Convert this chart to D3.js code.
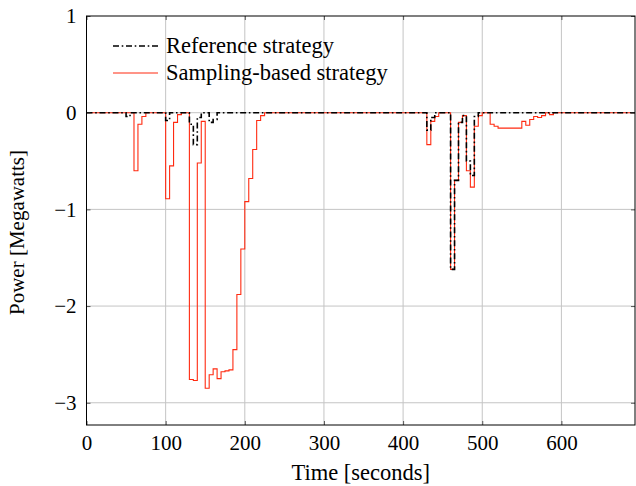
<!DOCTYPE html>
<html>
<head>
<meta charset="utf-8">
<script src="https://cdn.jsdelivr.net/npm/d3@7"></script>
<style>
  html, body { margin: 0; padding: 0; background: #fff; }
  svg text { font-family: "Liberation Serif", "DejaVu Serif", serif; fill: #000; }
</style>
</head>
<body>
<svg id="chart" width="636" height="486"></svg>
<script>
// ---- data (step series: value holds from time[i] until time[i+1]) ----
const xTicks = [0, 100, 200, 300, 400, 500, 600];
const yTicks = [1, 0, -1, -2, -3];

const seriesNames = ["Reference strategy", "Sampling-based strategy"];

const refTimes  = [0, 50, 55, 100, 105, 130, 135, 140, 145, 155, 160, 165,
                   430, 435, 440, 460, 465, 470, 475, 480, 485, 490, 495, 693];
const refValues = [0, -0.04, 0, -0.08, 0, -0.12, -0.33, -0.05, 0, -0.1, -0.07, 0,
                   -0.18, -0.05, 0, -1.62, -0.70, -0.10, -0.03, -0.5, -0.65, -0.04, 0, 0];

const samTimes  = [0, 60, 65, 70, 75, 100, 105, 110, 115, 120,
                   130, 135, 140, 145, 150, 155, 160, 165, 170, 175, 180, 185, 190, 195,
                   200, 205, 210, 215, 220, 225,
                   430, 435, 440, 445, 460, 465, 470, 475, 480, 485, 490, 495, 500,
                   510, 515, 520, 550, 555, 560, 565, 570, 575, 580, 585, 590, 693];
const samValues = [0, -0.6, -0.12, -0.04, 0, -0.89, -0.55, -0.10, -0.02, 0,
                   -2.76, -2.77, -0.52, -0.09, -2.85, -2.71, -2.65, -2.75, -2.68, -2.67, -2.66, -2.45, -1.88, -1.41,
                   -0.92, -0.68, -0.38, -0.08, -0.03, 0,
                   -0.33, -0.09, -0.04, 0, -1.62, -0.70, -0.10, -0.03, -0.60, -0.77, -0.14, -0.03, 0,
                   -0.12, -0.14, -0.16, -0.09, -0.13, -0.07, -0.04, -0.05, -0.03, 0, -0.02, 0, 0];

// ---- layout ----
const L = 86.5, R = 635, T = 16, B = 425;
const svg = d3.select("#chart");
const x = d3.scaleLinear().domain([0, 693]).range([L, R]);
const y = d3.scaleLinear().domain([-3.23, 1]).range([B, T]);

const refData = refTimes.map((t, i) => [t, refValues[i]]);
const samData = samTimes.map((t, i) => [t, samValues[i]]);

// grid
const grid = svg.append("g");
grid.selectAll("line.gx").data(xTicks.filter(d => d > 0)).join("line")
  .attr("x1", d => x(d)).attr("x2", d => x(d)).attr("y1", T).attr("y2", B)
  .attr("stroke", "#c4c4c4").attr("stroke-width", 1);
grid.selectAll("line.gy").data(yTicks.filter(d => d < 1)).join("line")
  .attr("x1", L).attr("x2", R).attr("y1", d => y(d)).attr("y2", d => y(d))
  .attr("stroke", "#c4c4c4").attr("stroke-width", 1);

// clip
svg.append("clipPath").attr("id", "clip").append("rect")
  .attr("x", L).attr("y", T).attr("width", R - L).attr("height", B - T);

const line = d3.line().x(d => x(d[0])).y(d => y(d[1])).curve(d3.curveStepAfter);

const plot = svg.append("g").attr("clip-path", "url(#clip)");
plot.append("path").datum(samData).attr("d", line)
  .attr("fill", "none").attr("stroke", "#ff2a10").attr("stroke-width", 1.1);
plot.append("path").datum(refData).attr("d", line)
  .attr("fill", "none").attr("stroke", "#000").attr("stroke-width", 1.6)
  .attr("stroke-dasharray", "6,2.7,1.6,2.7");

// axes (inward ticks on all sides)
const tickLen = 4;
const axB = d3.axisBottom(x).tickValues(xTicks).tickSize(-tickLen).tickPadding(10).tickFormat(d3.format("d"));
const axL = d3.axisLeft(y).tickValues(yTicks).tickSize(-tickLen).tickPadding(10)
  .tickFormat(d => d < 0 ? "\u2212" + Math.abs(d) : String(d));
const axT = d3.axisTop(x).tickValues(xTicks).tickSize(-tickLen).tickFormat("");
const axR = d3.axisRight(y).tickValues(yTicks).tickSize(-tickLen).tickFormat("");

function style(g) {
  g.select(".domain").remove();
  g.selectAll(".tick line").attr("stroke", "#555");
  g.selectAll("text").style("font-size", "21px").attr("fill", "#000");
}
svg.append("g").attr("transform", `translate(0,${B})`).call(axB).call(style);
svg.append("g").attr("transform", `translate(${L},0)`).call(axL).call(style);
svg.append("g").attr("transform", `translate(0,${T})`).call(axT).call(style);
svg.append("g").attr("transform", `translate(${R},0)`).call(axR).call(style);

// frame
svg.append("rect").attr("x", L).attr("y", T).attr("width", R - L).attr("height", B - T)
  .attr("fill", "none").attr("stroke", "#000").attr("stroke-width", 1);

// axis labels
svg.append("text").attr("x", (L + R) / 2).attr("y", 480).attr("text-anchor", "middle")
  .style("font-size", "22.5px").text("Time [seconds]");
svg.append("text").attr("transform", `translate(24,${(T + B) / 2 + 12}) rotate(-90)`)
  .attr("text-anchor", "middle").style("font-size", "21px").text("Power [Megawatts]");

// legend
const leg = svg.append("g");
const legY = [46, 73];
leg.append("line").attr("x1", 113).attr("x2", 158).attr("y1", legY[0]).attr("y2", legY[0])
  .attr("stroke", "#000").attr("stroke-width", 1.6).attr("stroke-dasharray", "6,2.7,1.6,2.7");
leg.append("line").attr("x1", 113).attr("x2", 158).attr("y1", legY[1]).attr("y2", legY[1])
  .attr("stroke", "#ff2a10").attr("stroke-width", 1.1);
leg.selectAll("text").data(seriesNames).join("text")
  .attr("x", 166).attr("y", (d, i) => legY[i] + 7)
  .style("font-size", "22.5px").text(d => d);
</script>
</body>
</html>
